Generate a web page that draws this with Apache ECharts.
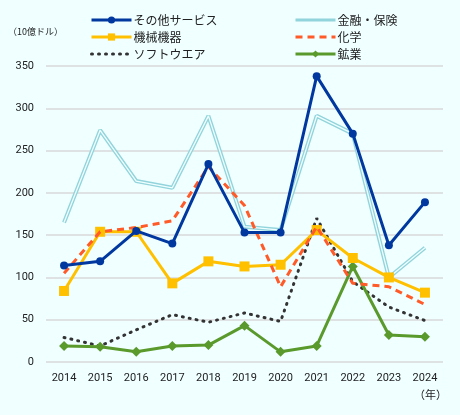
<!DOCTYPE html>
<html>
<head>
<meta charset="utf-8">
<script src="https://cdn.jsdelivr.net/npm/echarts@6/dist/echarts.min.js"></script>
<style>
  html, body { margin: 0; padding: 0; background: #F0FFFF; }
  #chart { width: 460px; height: 415px; }
</style>
</head>
<body>
<div id="chart"></div>
<script>
// 年
const years = ['2014', '2015', '2016', '2017', '2018', '2019', '2020', '2021', '2022', '2023', '2024'];
// 各業種（10億ドル）
const otherServices = [114, 119, 155, 140, 234, 153, 153, 338, 270, 138, 189];
const finance = [165, 274, 214, 206, 291, 160, 156, 291, 270, 100, 135];
const machinery = [84, 154, 154, 93, 119, 113, 115, 156, 123, 100, 82];
const chemical = [105, 154, 159, 167, 231, 185, 89, 160, 93, 89, 68];
const software = [29, 19, 38, 56, 47, 58, 48, 170, 95, 65, 49];
const mining = [19, 18, 12, 19, 20, 43, 12, 19, 113, 32, 30];

const fontFamily = '"Noto Sans CJK JP", sans-serif';
const noSymbol = { itemStyle: { opacity: 0 } }; // 凡例でマーカーを隠す

const myChart = echarts.init(document.getElementById('chart'));

const legendBase = {
    orient: 'vertical',
    top: 9,
    itemWidth: 40,
    itemHeight: 9,
    itemGap: 5,
    lineStyle: { width: 3 },
    textStyle: { fontSize: 12, color: '#222', fontFamily, padding: [0, 0, 0, -3] },
};

const option = {
    backgroundColor: '#F0FFFF',
    animation: false,
    legend: [
        Object.assign({
            left: 85,
            data: ['その他サービス', '機械機器', Object.assign({ name: 'ソフトウエア' }, noSymbol)],
        }, legendBase),
        Object.assign({
            left: 289,
            data: [Object.assign({ name: '金融・保険' }, noSymbol), Object.assign({ name: '化学' }, noSymbol), '鉱業'],
        }, legendBase),
    ],
    graphic: [
        {
            type: 'text', left: 8, top: 27,
            style: { text: '（10億ドル）', fontSize: 9, fill: '#222', fontFamily },
        },
        {
            type: 'text', left: 414, top: 389,
            style: { text: '（年）', fontSize: 11, fill: '#222', fontFamily },
        },
    ],
    grid: { left: 46, right: 17, top: 66, bottom: 53 },
    xAxis: {
        type: 'category',
        data: years,
        boundaryGap: true,
        axisLine: { show: false },
        axisTick: { show: false },
        axisLabel: { fontSize: 11, color: '#222', fontFamily: 'Roboto, sans-serif', margin: 11 },
    },
    yAxis: {
        type: 'value',
        min: 0,
        max: 350,
        interval: 50,
        axisLine: { show: false },
        axisTick: { show: false },
        axisLabel: { fontSize: 11, color: '#222', fontFamily: 'Roboto, sans-serif', margin: 12 },
        splitLine: { lineStyle: { color: '#D9D9D9', width: 1.5 } },
    },
    series: [
        {
            name: '金融・保険',
            type: 'line',
            data: finance,
            symbol: 'none',
            lineStyle: { color: '#92D4DC', width: 4 },
            itemStyle: { color: '#92D4DC' },
            z: 2,
        },
        {
            name: '金融・保険_inner',
            type: 'line',
            data: finance,
            symbol: 'none',
            lineStyle: { color: '#F0FFFF', width: 1.3 },
            itemStyle: { color: '#F0FFFF' },
            z: 2,
        },
        {
            name: 'ソフトウエア',
            type: 'line',
            data: software,
            symbol: 'none',
            lineStyle: { color: '#333', width: 3, type: [1, 6], cap: 'round' },
            itemStyle: { color: '#333' },
            z: 3,
        },
        {
            name: '鉱業',
            type: 'line',
            data: mining,
            symbol: 'diamond',
            symbolSize: 10,
            lineStyle: { color: '#5A9A2C', width: 3 },
            itemStyle: { color: '#5A9A2C' },
            z: 4,
        },
        {
            name: '機械機器',
            type: 'line',
            data: machinery,
            symbol: 'rect',
            symbolSize: 10,
            lineStyle: { color: '#FFC000', width: 3 },
            itemStyle: { color: '#FFC000' },
            z: 5,
        },
        {
            name: '化学',
            type: 'line',
            data: chemical,
            symbol: 'none',
            lineStyle: { color: '#FF5A28', width: 3, type: [7, 5] },
            itemStyle: { color: '#FF5A28' },
            z: 6,
        },
        {
            name: 'その他サービス',
            type: 'line',
            data: otherServices,
            symbol: 'circle',
            symbolSize: 8,
            lineStyle: { color: '#0038A0', width: 3 },
            itemStyle: { color: '#0038A0' },
            z: 7,
        },
    ],
};

myChart.setOption(option);
</script>
</body>
</html>
